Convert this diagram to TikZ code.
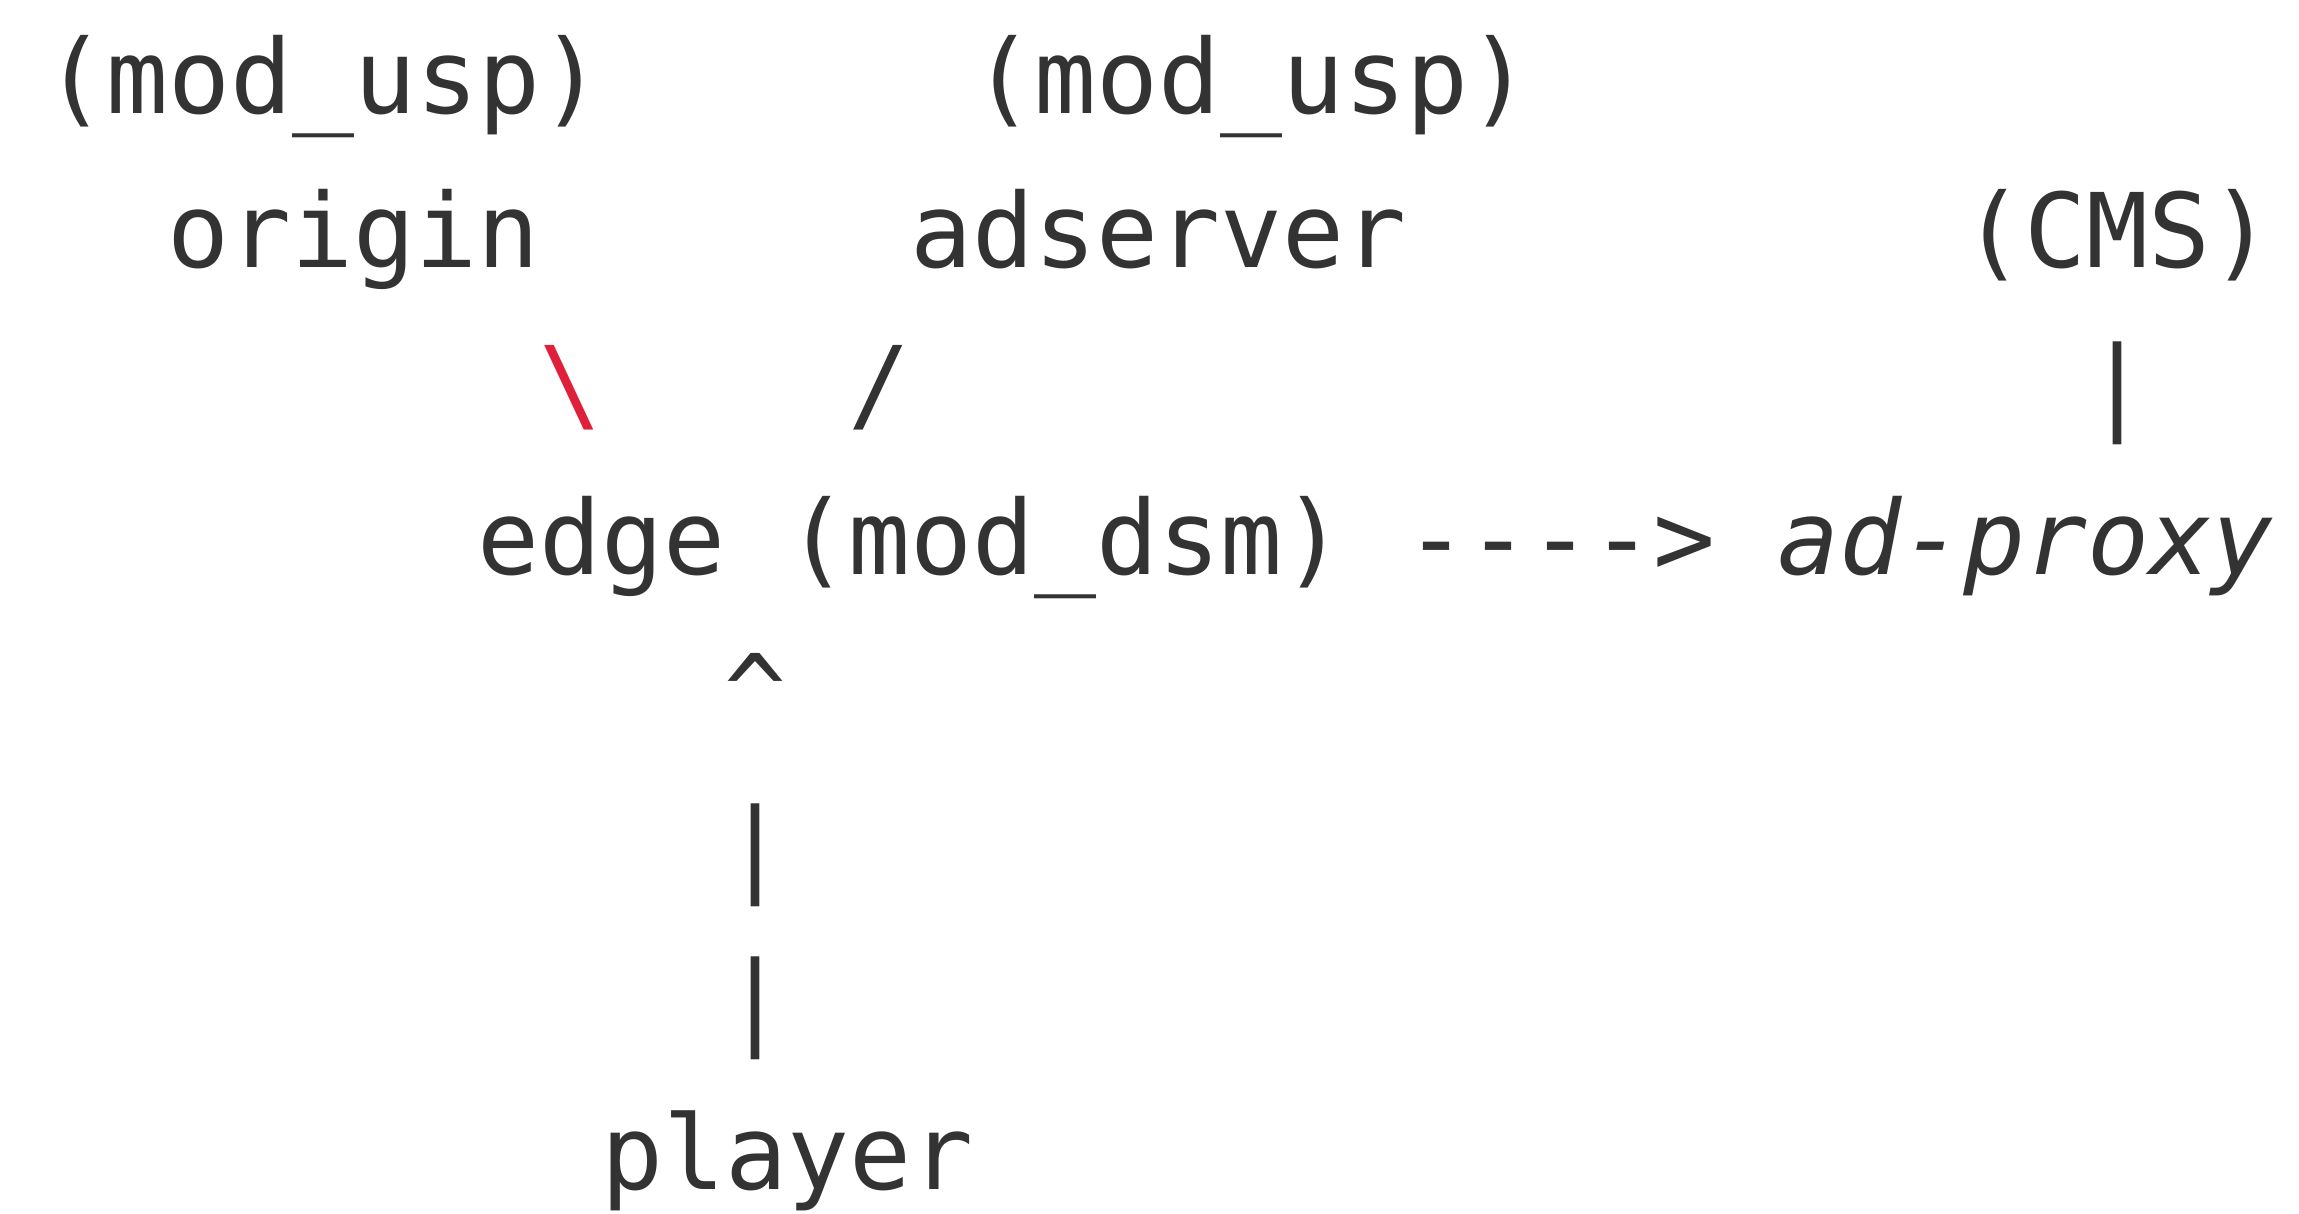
\documentclass[tikz,border=0pt]{standalone}
\usepackage{fontspec}
\newfontfamily\asciimono{DejaVu Sans Mono}
\definecolor{ink}{HTML}{333333}
\definecolor{redink}{HTML}{E0203A}
\tikzset{
  txt/.style={inner sep=0pt, outer sep=0pt, anchor=base west, text=ink,
    font=\asciimono\fontsize{10.3pt}{12pt}\selectfont},
  glyph/.style={txt},
  redglyph/.style={txt, text=redink},
}
\newcommand{\cx}[1]{44+#1*61.9}
\begin{document}
\begin{tikzpicture}[x=0.1pt,y=-0.1pt]
\useasboundingbox (0,0) rectangle (2299,1214);
% line 0
\node[txt] (usp1) at ({\cx{0}},114) {(mod\_usp)};
\node[txt] (usp2) at ({\cx{15}},114) {(mod\_usp)};
% line 1
\node[txt] (origin) at ({\cx{2}},268) {origin};
\node[txt] (adserver) at ({\cx{14}},268) {adserver};
\node[txt] (cms) at ({\cx{31}},268) {(CMS)};
% line 2
\node[redglyph] (bsl) at ({\cx{8}},421) {\textbackslash};
\node[glyph] (sl) at ({\cx{13}},421) {/};
\node[glyph] (bar0) at ({\cx{33}},421) {|};
% line 3
\node[txt] (edge) at ({\cx{7}},575) {edge};
\node[txt] (dsm) at ({\cx{12}},575) {(mod\_dsm)};
\node[glyph] (arr) at ({\cx{22}},575) {---{}->};
\node[txt,font=\asciimono\itshape\fontsize{10.3pt}{12pt}\selectfont] (adproxy) at ({\cx{28}},575) {ad-proxy};
% line 4-6
\node[glyph] (caret) at ({\cx{11}},729) {\textasciicircum};
\node[glyph] (bar1) at ({\cx{11}},883) {|};
\node[glyph] (bar2) at ({\cx{11}},1036) {|};
% line 7
\node[txt] (player) at ({\cx{9}},1190) {player};
\end{tikzpicture}
\end{document}
